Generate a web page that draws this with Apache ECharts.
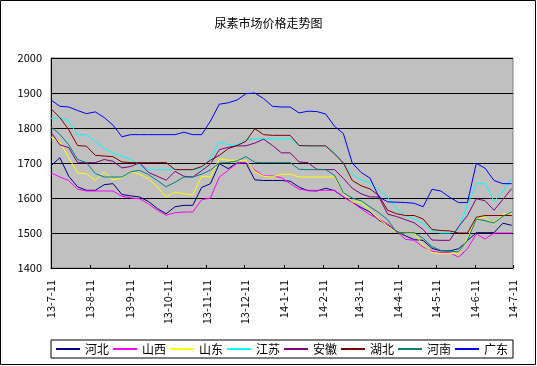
<!DOCTYPE html>
<html><head><meta charset="utf-8">
<script src="https://cdn.jsdelivr.net/npm/echarts@6/dist/echarts.min.js"></script>
<style>html,body{margin:0;padding:0;background:#fff}#c{width:537px;height:366px}</style>
</head><body><div id="c"></div>
<script>
const dates = ['2013-07-11','2013-07-18','2013-07-25','2013-08-01','2013-08-08','2013-08-15','2013-08-22','2013-08-29','2013-09-05','2013-09-12','2013-09-19','2013-09-26','2013-10-03','2013-10-10','2013-10-17','2013-10-24','2013-10-31','2013-11-07','2013-11-14','2013-11-21','2013-11-28','2013-12-05','2013-12-12','2013-12-19','2013-12-26','2014-01-02','2014-01-09','2014-01-16','2014-01-23','2014-01-30','2014-02-06','2014-02-13','2014-02-20','2014-02-27','2014-03-06','2014-03-13','2014-03-20','2014-03-27','2014-04-03','2014-04-10','2014-04-17','2014-04-24','2014-05-01','2014-05-08','2014-05-15','2014-05-22','2014-05-29','2014-06-05','2014-06-12','2014-06-19','2014-06-26','2014-07-03','2014-07-10'];
const tickDates = ['2013-07-11','2013-08-11','2013-09-11','2013-10-11','2013-11-11','2013-12-11','2014-01-11','2014-02-11','2014-03-11','2014-04-11','2014-05-11','2014-06-11','2014-07-11'];
const tickLabels = ['13-7-11','13-8-11','13-9-11','13-10-11','13-11-11','13-12-11','14-1-11','14-2-11','14-3-11','14-4-11','14-5-11','14-6-11','14-7-11'];
const seriesNames = ['河北','山西','山东','江苏','安徽','湖北','河南','广东'];
const hebei = [1692,1715,1662,1632,1622,1622,1638,1641,1610,1606,1603,1590,1570,1555,1575,1579,1579,1630,1641,1698,1684,1700,1700,1652,1650,1650,1650,1648,1631,1621,1620,1628,1621,1603,1588,1573,1560,1537,1522,1505,1492,1481,1479,1456,1449,1449,1455,1478,1501,1501,1501,1528,1522];
const shanxi = [1672,1660,1650,1625,1620,1620,1620,1620,1605,1600,1598,1583,1565,1551,1558,1560,1560,1595,1600,1660,1679,1700,1701,1680,1663,1663,1658,1641,1625,1622,1622,1622,1622,1603,1588,1569,1552,1540,1526,1505,1482,1479,1460,1448,1444,1444,1431,1455,1497,1483,1500,1500,1500];
const shandong = [1774,1760,1715,1672,1669,1650,1675,1652,1658,1676,1668,1655,1632,1603,1617,1612,1609,1662,1660,1712,1708,1708,1707,1675,1662,1660,1668,1668,1660,1660,1660,1660,1660,1614,1589,1588,1565,1540,1520,1502,1499,1499,1465,1444,1441,1441,1441,1485,1541,1545,1524,1555,1555];
const jiangsu = [1827,1829,1820,1781,1781,1760,1742,1728,1720,1710,1693,1681,1681,1681,1681,1681,1681,1685,1715,1760,1752,1752,1766,1769,1769,1769,1769,1769,1749,1749,1749,1749,1730,1699,1667,1652,1643,1623,1601,1570,1550,1540,1528,1505,1500,1500,1510,1580,1641,1641,1590,1620,1657];
const anhui = [1788,1752,1744,1701,1701,1701,1710,1705,1686,1690,1701,1673,1662,1651,1676,1662,1660,1678,1697,1738,1745,1749,1749,1757,1768,1750,1729,1729,1703,1701,1682,1681,1681,1656,1628,1612,1603,1603,1554,1547,1538,1529,1510,1480,1479,1479,1518,1550,1598,1592,1565,1596,1627];
const hubei = [1855,1830,1795,1750,1748,1722,1720,1718,1703,1701,1701,1701,1701,1701,1681,1681,1681,1690,1708,1722,1741,1750,1762,1798,1781,1779,1779,1779,1750,1749,1749,1749,1726,1700,1650,1635,1626,1607,1565,1555,1550,1550,1540,1510,1507,1506,1500,1500,1545,1550,1550,1550,1550];
const henan = [1803,1782,1752,1710,1701,1670,1660,1660,1660,1675,1679,1667,1650,1632,1645,1660,1660,1668,1680,1700,1701,1706,1718,1702,1701,1701,1701,1701,1682,1681,1681,1681,1665,1615,1600,1592,1575,1558,1538,1502,1501,1501,1485,1461,1450,1448,1446,1479,1540,1535,1528,1548,1560];
const guangdong = [1880,1862,1860,1850,1841,1846,1830,1808,1775,1781,1781,1781,1781,1781,1781,1788,1781,1781,1820,1868,1872,1880,1898,1900,1884,1862,1860,1860,1843,1848,1847,1840,1805,1784,1700,1673,1657,1603,1589,1588,1587,1585,1575,1625,1620,1602,1587,1587,1699,1685,1650,1641,1641];
const yTicks = [1400,1500,1600,1700,1800,1900,2000];

const allValues = [hebei, shanxi, shandong, jiangsu, anhui, hubei, henan, guangdong];
const colors = ['#000080','#FF00FF','#FFFF00','#00FFFF','#800080','#800000','#008080','#0000FF'];
function ts(s){const p=s.split('-').map(Number);return Date.UTC(p[0],p[1]-1,p[2]);}
const t0 = ts(tickDates[0]);
function dayOf(s){return Math.round((ts(s)-t0)/86400000);}
const tickDays = tickDates.map(dayOf);
const labelMap = {}; tickDays.forEach((d,i)=>{labelMap[d]=tickLabels[i];});
const font = '"Noto Sans CJK SC", "DejaVu Sans", sans-serif';

const chart = echarts.init(document.getElementById('c'), null, {renderer:'canvas'});
chart.setOption({
  animation:false,
  backgroundColor:'#fff',
  title:{text:'尿素市场价格走势图',left:'center',top:12,textStyle:{fontSize:12,fontWeight:'normal',color:'#000',fontFamily:font}},
  graphic:[{type:'rect',shape:{x:0.5,y:0.5,width:535,height:364},style:{fill:'none',stroke:'#000',lineWidth:1},silent:true}],
  grid:{left:51,right:24,top:58,bottom:98,show:true,backgroundColor:'#C0C0C0',borderColor:'#808080',borderWidth:1},
  legend:{data:seriesNames,left:51,top:340,itemWidth:24,itemHeight:2,icon:'rect',itemGap:4,padding:[3,5],
    borderColor:'#000',borderWidth:1,textStyle:{fontSize:12,color:'#000',fontFamily:font}},
  xAxis:{type:'value',min:tickDays[0],max:tickDays[tickDays.length-1],
    axisLine:{lineStyle:{color:'#000',width:1}},
    axisTick:{show:true,inside:true,length:3,customValues:tickDays,lineStyle:{color:'#000'}},
    axisLabel:{customValues:tickDays,rotate:90,margin:12,fontSize:11,color:'#000',fontFamily:font,
      formatter:function(v){return labelMap[Math.round(v)]||'';}},
    splitLine:{show:false}},
  yAxis:{type:'value',min:yTicks[0],max:yTicks[yTicks.length-1],interval:100,
    axisLine:{show:true,lineStyle:{color:'#000'}},axisTick:{show:false},
    axisLabel:{fontSize:11,color:'#000',margin:9,fontFamily:font,formatter:function(v){return String(v);}},
    splitLine:{show:true,lineStyle:{color:'#000',width:1}}},
  series: seriesNames.map((n,i)=>({name:n,type:'line',symbol:'none',showSymbol:false,
    lineStyle:{width:1,color:colors[i]},itemStyle:{color:colors[i]},
    data:dates.map((d,j)=>[dayOf(d),allValues[i][j]])}))
});
</script></body></html>
